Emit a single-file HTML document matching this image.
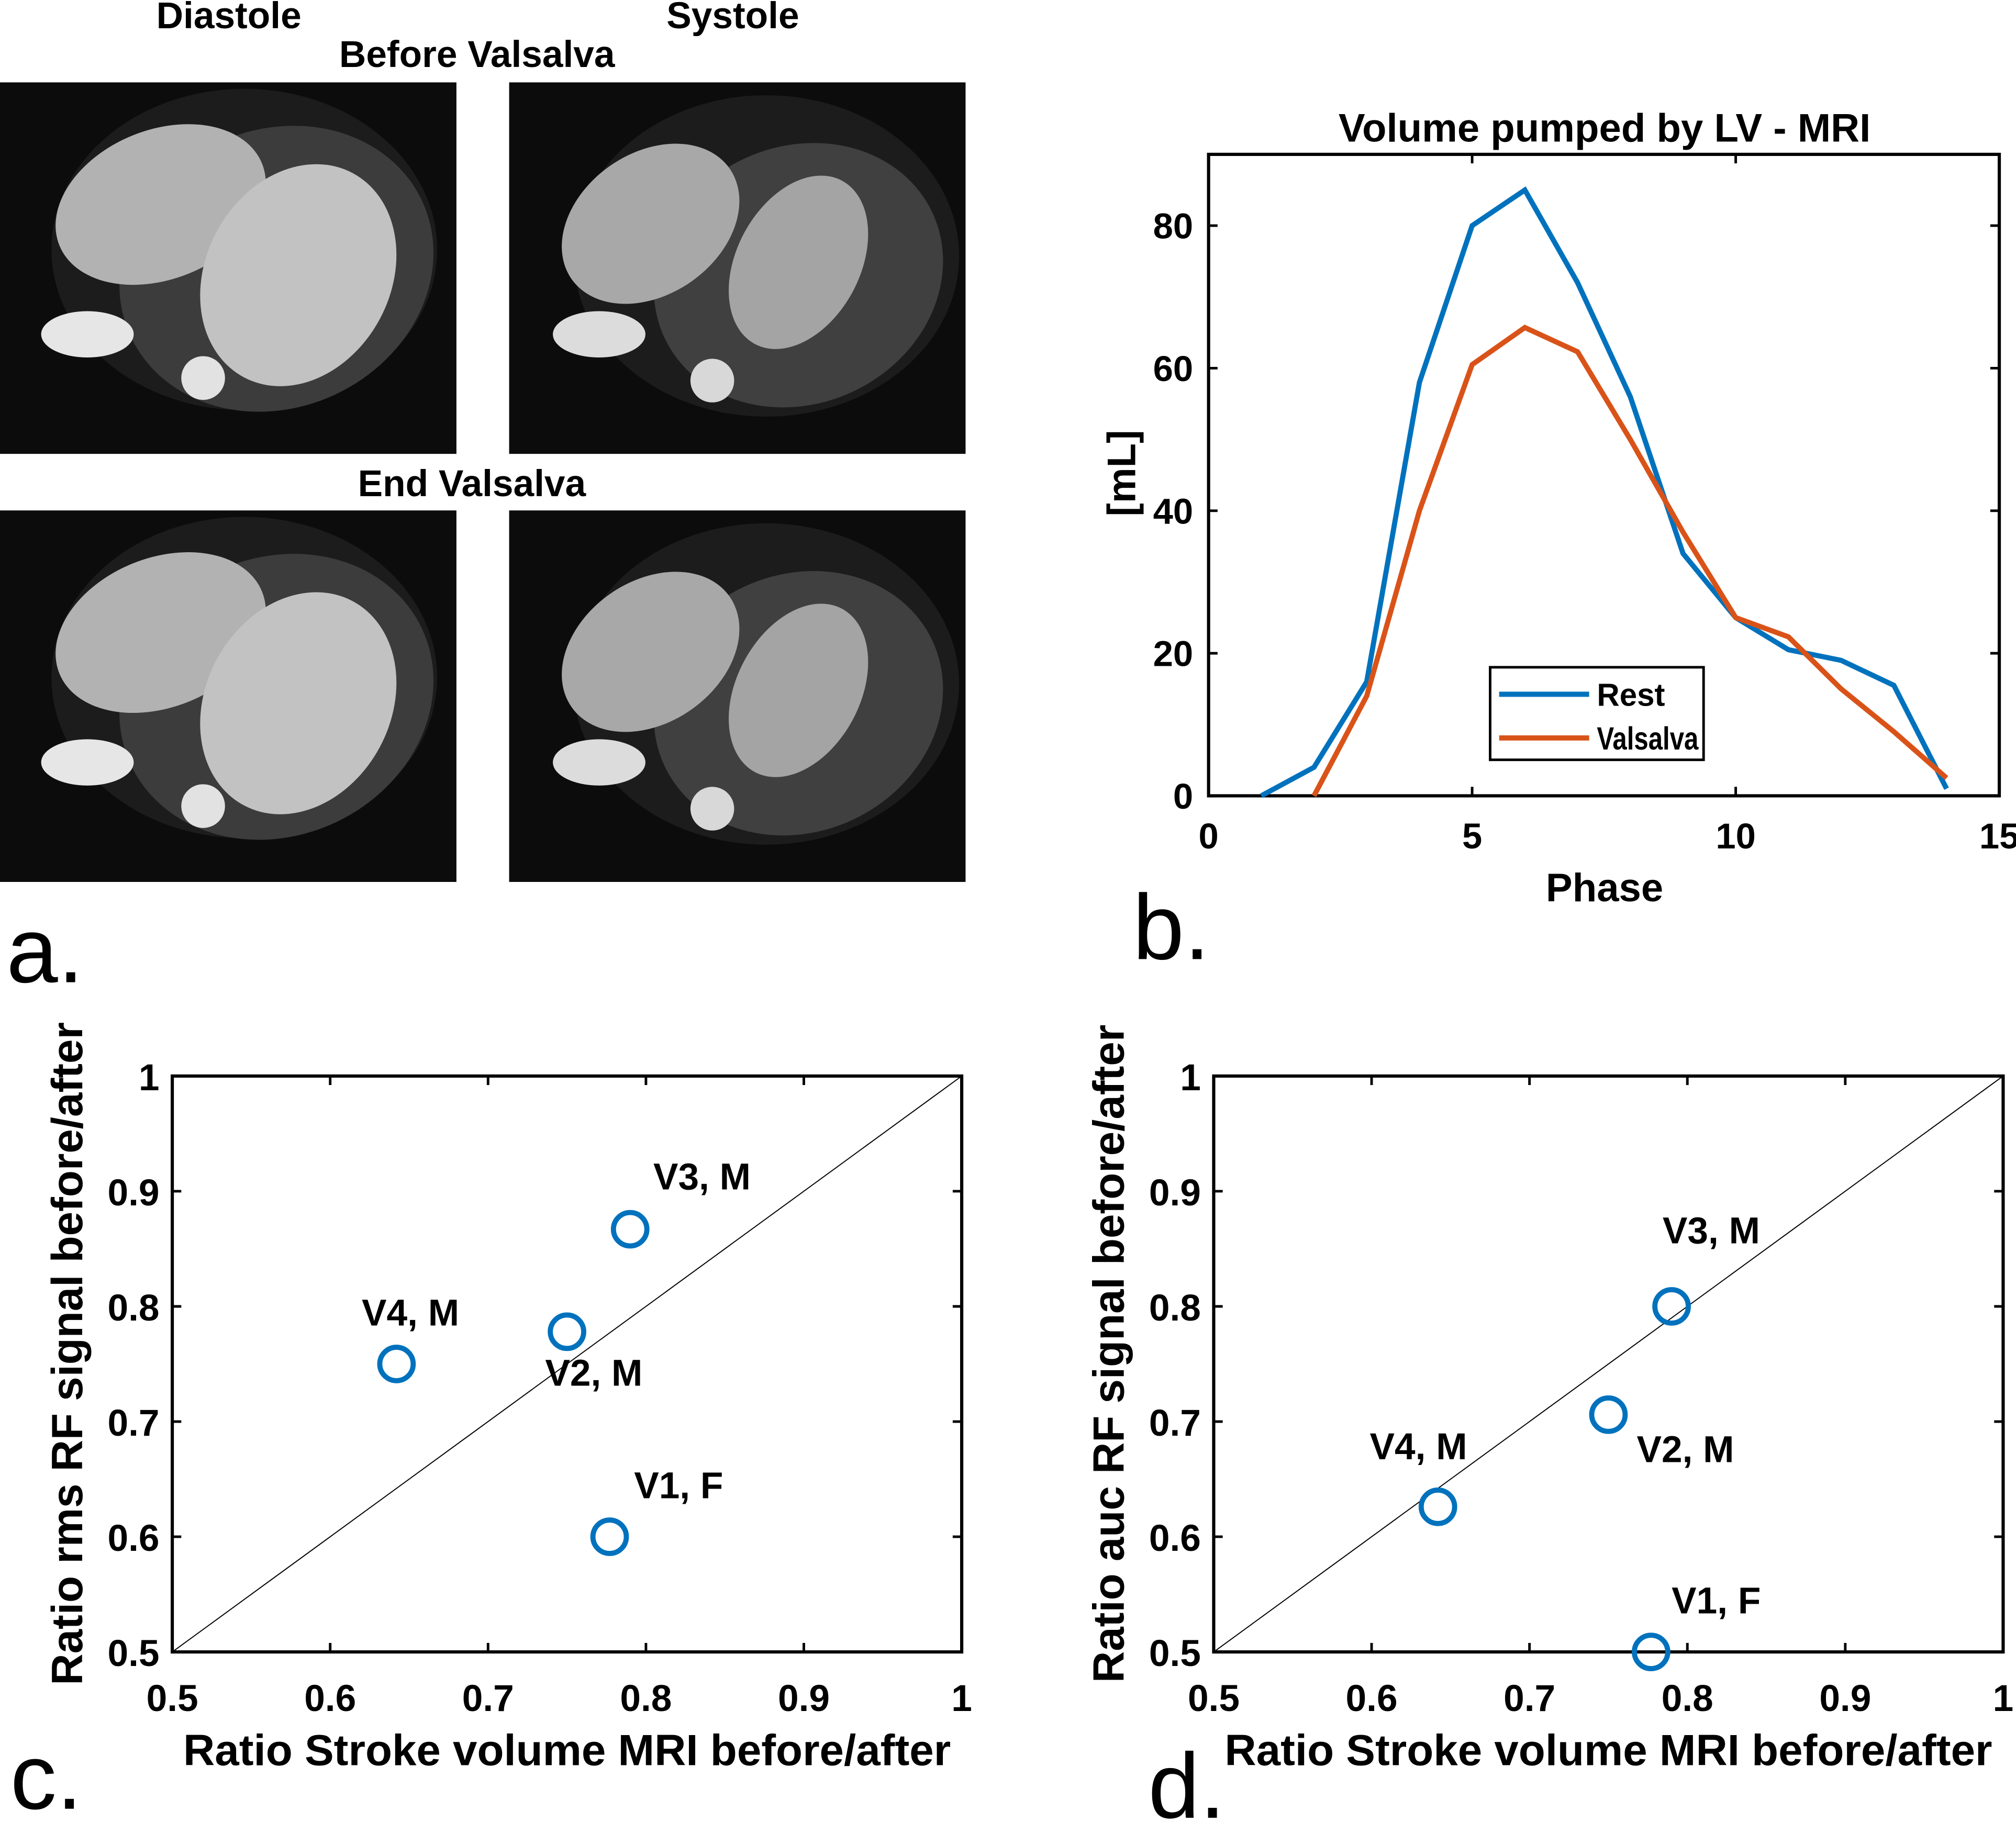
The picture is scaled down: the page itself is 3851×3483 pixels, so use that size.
<!DOCTYPE html>
<html><head><meta charset="utf-8"><style>
html,body{margin:0;padding:0;background:#fff;}
svg{display:block;}
text{font-family:"Liberation Sans",Arial,sans-serif;font-weight:bold;fill:#000;}
</style></head><body>
<svg id="fig" width="3851" height="3483" viewBox="0 0 1568 1418" xmlns="http://www.w3.org/2000/svg">
<defs>
<g id="diast">
<rect width="355" height="289" fill="#0c0c0c"/>
<ellipse cx="190" cy="130" rx="150" ry="125" fill="#1c1c1c"/>
<ellipse cx="215" cy="145" rx="125" ry="108" transform="rotate(-25 215 145)" fill="#3c3c3c"/>
<ellipse cx="125" cy="95" rx="85" ry="58" transform="rotate(-22 125 95)" fill="#b2b2b2"/>
<ellipse cx="232" cy="150" rx="72" ry="90" transform="rotate(28 232 150)" fill="#c2c2c2"/>
<ellipse cx="68" cy="196" rx="36" ry="18" fill="#e6e6e6"/>
<circle cx="158" cy="230" r="17" fill="#e2e2e2"/>
</g>
<g id="syst">
<rect width="355" height="289" fill="#0c0c0c"/>
<ellipse cx="200" cy="135" rx="150" ry="125" fill="#1c1c1c"/>
<ellipse cx="225" cy="150" rx="115" ry="100" transform="rotate(-25 225 150)" fill="#404040"/>
<ellipse cx="110" cy="110" rx="75" ry="55" transform="rotate(-35 110 110)" fill="#a8a8a8"/>
<ellipse cx="225" cy="140" rx="48" ry="72" transform="rotate(28 225 140)" fill="#a4a4a4"/>
<ellipse cx="70" cy="196" rx="36" ry="18" fill="#dcdcdc"/>
<circle cx="158" cy="232" r="17" fill="#d8d8d8"/>
</g>
</defs>
<use href="#diast" x="0" y="64"/>
<use href="#syst" x="396" y="64"/>
<use href="#diast" x="0" y="397"/>
<use href="#syst" x="396" y="397"/>
<text x="178" y="22" font-size="29" text-anchor="middle">Diastole</text>
<text x="570" y="22" font-size="29" text-anchor="middle">Systole</text>
<text x="371" y="52" font-size="29" text-anchor="middle">Before Valsalva</text>
<text x="367" y="386" font-size="29" text-anchor="middle">End Valsalva</text>
<text x="5" y="764" font-size="72" style="font-weight:normal">a.</text>
<text x="881" y="746" font-size="72" style="font-weight:normal">b.</text>
<text x="8" y="1407" font-size="72" style="font-weight:normal">c.</text>
<text x="893" y="1414" font-size="72" style="font-weight:normal">d.</text>
<g id="b"></g><g id="c"></g><g id="d"></g>
</svg>
<script>
const phases=[1,2,3,4,5,6,7,8,9,10,11,12,13,14];
const restVals=[0,4,16,58,80,85,72,56,34,25,20.5,19,15.5,1];
const valsPhases=[2,3,4,5,6,7,8,9,10,11,12,13,14];
const valsVals=[0,14,40,60.5,65.7,62.3,50,37,25,22.3,15,9,2.5];
const bXTicks=[0,5,10,15];
const bYTicks=[0,20,40,60,80];
const ratioTicks=[0.5,0.6,0.7,0.8,0.9,1];
const tickLabels=["0.5","0.6","0.7","0.8","0.9","1"];
const subjects=["V1, F","V2, M","V3, M","V4, M"];
const strokeRatio=[0.777,0.75,0.79,0.642];
const rmsRatio=[0.6,0.778,0.867,0.75];
const aucRatio=[0.5,0.706,0.8,0.626];
const NS="http://www.w3.org/2000/svg";
function mk(p,t,a){const e=document.createElementNS(NS,t);for(const k in a)e.setAttribute(k,a[k]);p.appendChild(e);return e;}
(function(){
 const g=document.getElementById('b');
 const L=940,R=1555,T=120,B=619;
 const sx=v=>L+(v-0)/15*(R-L), sy=v=>B-(v/90)*(B-T);
 const f=mk(g,'rect',{x:L,y:T,width:R-L,height:B-T,fill:'none',stroke:'#000','stroke-width':2.5});
 
 bXTicks.forEach(v=>{const x=sx(v);
  mk(g,'line',{x1:x,y1:B,x2:x,y2:B-7,stroke:'#000','stroke-width':2});
  mk(g,'line',{x1:x,y1:T,x2:x,y2:T+7,stroke:'#000','stroke-width':2});
  const t=mk(g,'text',{x:x,y:B+41,'font-size':28,'text-anchor':'middle'});t.textContent=v;
  });
 bYTicks.forEach(v=>{const y=sy(v);
  mk(g,'line',{x1:L,y1:y,x2:L+7,y2:y,stroke:'#000','stroke-width':2});
  mk(g,'line',{x1:R,y1:y,x2:R-7,y2:y,stroke:'#000','stroke-width':2});
  const t=mk(g,'text',{x:L-12,y:y+10,'font-size':28,'text-anchor':'end'});t.textContent=v;
  });
 const l1=mk(g,'polyline',{points:phases.map((p,i)=>sx(p)+','+sy(restVals[i])).join(' '),fill:'none',stroke:'#0072BD','stroke-width':4});
 
 const l2=mk(g,'polyline',{points:valsPhases.map((p,i)=>sx(p)+','+sy(valsVals[i])).join(' '),fill:'none',stroke:'#D95319','stroke-width':4});
 
 let t=mk(g,'text',{x:1248,y:110,'font-size':31,'text-anchor':'middle'});t.textContent='Volume pumped by LV - MRI';
 
 t=mk(g,'text',{x:1248,y:701,'font-size':31,'text-anchor':'middle'});t.textContent='Phase';
 
 t=mk(g,'text',{x:883,y:368,'font-size':31,'text-anchor':'middle',transform:'rotate(-90 883 368)'});t.textContent='[mL]';
 
 const lg=mk(g,'rect',{x:1159,y:519,width:166,height:72,fill:'#fff',stroke:'#000','stroke-width':2});
 
 mk(g,'line',{x1:1166,y1:540,x2:1236,y2:540,stroke:'#0072BD','stroke-width':4});
 mk(g,'line',{x1:1166,y1:574,x2:1236,y2:574,stroke:'#D95319','stroke-width':4});
 t=mk(g,'text',{x:1242,y:549,'font-size':25,textLength:53,lengthAdjust:'spacingAndGlyphs'});t.textContent='Rest';
 
 t=mk(g,'text',{x:1242,y:583,'font-size':25,textLength:79,lengthAdjust:'spacingAndGlyphs'});t.textContent='Valsalva';
 
})();
function scatter(id,L,ys,ytitle,yTitleX,labelOff){
 const g=document.getElementById(id);
 const R=L+614,T=837,B=1285;
 const sx=v=>L+(v-0.5)/0.5*(R-L), sy=v=>B-(v-0.5)/0.5*(B-T);
 const f=mk(g,'rect',{x:L,y:T,width:R-L,height:B-T,fill:'none',stroke:'#000','stroke-width':2.5});
 
 const dg=mk(g,'line',{x1:sx(0.5),y1:sy(0.5),x2:sx(1),y2:sy(1),stroke:'#000','stroke-width':0.8});
 
 ratioTicks.forEach((v,i)=>{const x=sx(v),y=sy(v);
  mk(g,'line',{x1:x,y1:B,x2:x,y2:B-7,stroke:'#000','stroke-width':2});
  mk(g,'line',{x1:x,y1:T,x2:x,y2:T+7,stroke:'#000','stroke-width':2});
  mk(g,'line',{x1:L,y1:y,x2:L+7,y2:y,stroke:'#000','stroke-width':2});
  mk(g,'line',{x1:R,y1:y,x2:R-7,y2:y,stroke:'#000','stroke-width':2});
  let t=mk(g,'text',{x:x,y:B+46,'font-size':29,'text-anchor':'middle'});t.textContent=tickLabels[i];
  
  t=mk(g,'text',{x:L-10,y:y+11,'font-size':29,'text-anchor':'end'});t.textContent=tickLabels[i];
  });
 subjects.forEach((s,i)=>{
  const c=mk(g,'circle',{cx:sx(strokeRatio[i]),cy:sy(ys[i]),r:13,fill:'none',stroke:'#0072BD','stroke-width':4});
  
  const o=labelOff[i];
  const t=mk(g,'text',{x:sx(strokeRatio[i])+o[0],y:sy(ys[i])+o[1],'font-size':29});t.textContent=s;
  });
 let t=mk(g,'text',{x:(L+R)/2,y:1373,'font-size':34,'text-anchor':'middle'});t.textContent='Ratio Stroke volume MRI before/after';
 
 t=mk(g,'text',{x:yTitleX,y:1053,'font-size':34,'text-anchor':'middle',transform:'rotate(-90 '+yTitleX+' 1053)'});t.textContent=ytitle;
 
}
scatter('c',134,rmsRatio,'Ratio rms RF signal before/after',64,[[19,-30],[-17,42],[18,-31],[-27,-30]]);
scatter('d',944,aucRatio,'Ratio auc RF signal before/after',874,[[16,-30],[22,37],[-7,-49],[-53,-37]]);
</script>
</body></html>
